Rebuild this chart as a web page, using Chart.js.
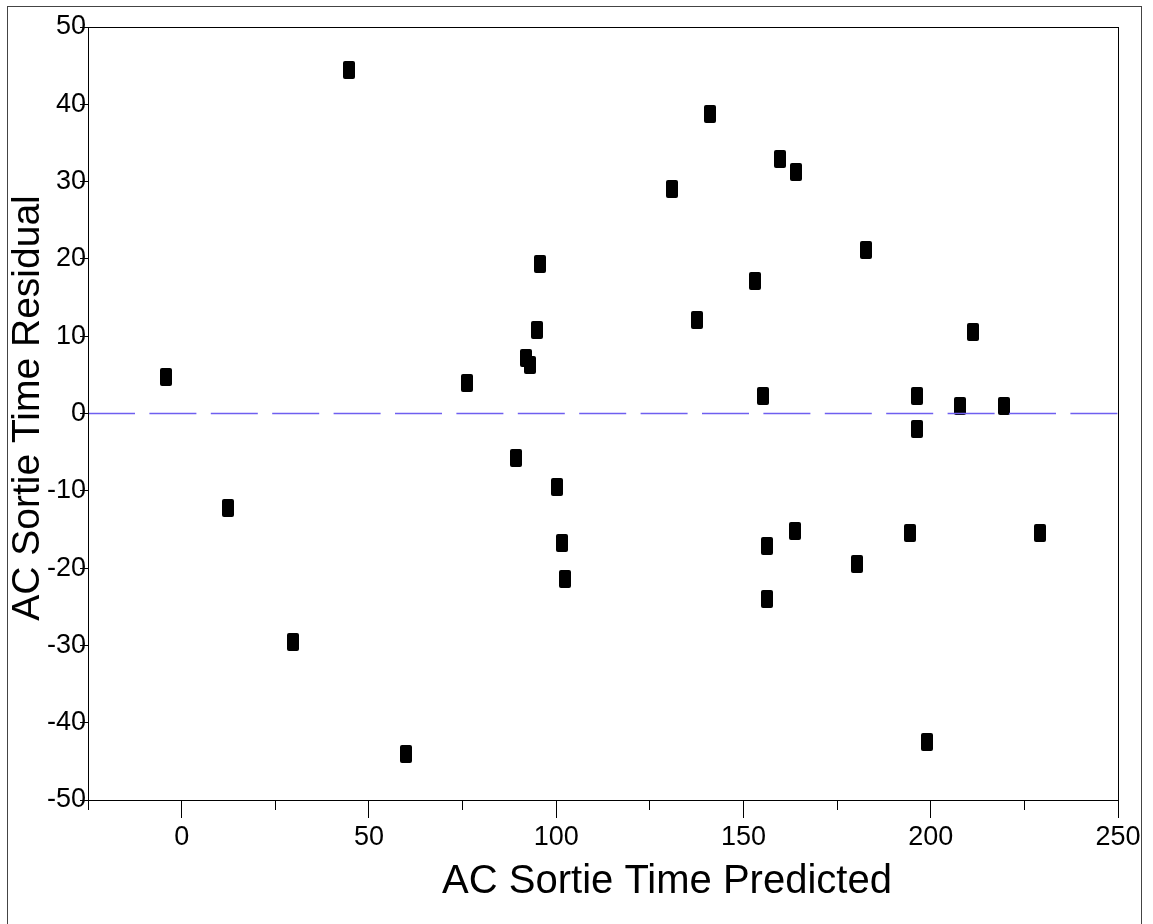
<!DOCTYPE html>
<html lang="en">
<head>
<meta charset="UTF-8">
<title>AC Sortie Time Residual by Predicted</title>
<script src="https://cdn.jsdelivr.net/npm/chart.js"></script>
<style>
    body { margin: 0; background: #fff; }
    .chart-container { position: relative; width: 1153px; height: 924px; }
</style>
</head>
<body>
<div class="chart-container">
    <canvas id="residualChart"></canvas>
</div>
<script>
// data
const predicted = [-4.2, 12.4, 29.7, 44.7, 59.9, 76.2, 89.2, 91.9, 93.1, 94.8, 95.7, 100.2, 101.5, 102.3,
    131.0, 137.6, 141.1, 153.1, 155.3, 156.2, 156.2, 159.7, 164.1, 163.7, 180.4, 182.7,
    194.5, 196.4, 196.4, 199.0, 207.8, 211.3, 219.6, 229.3];
const residual = [4.7, -12.2, -29.5, 44.4, -44.1, 3.9, -5.7, 7.2, 6.3, 10.8, 19.4, -9.5, -16.8, -21.4,
    29.0, 12.1, 38.8, 17.1, 2.3, -17.1, -24.0, 32.9, 31.3, -15.2, -19.5, 21.1,
    -15.5, 2.3, -2.0, -42.5, 1.0, 10.5, 1.0, -15.5];
const zeroLine = [-25, 250];
const xLabels = [0, 50, 100, 150, 200, 250];
const xTitle = 'AC Sortie Time Predicted';
const yTitle = 'AC Sortie Time Residual';

const FONT = "'Liberation Sans', Arial, sans-serif";

// tall black marker
const marker = document.createElement('canvas');
marker.width = 12;
marker.height = 18;
(function () {
    const m = marker.getContext('2d');
    m.fillStyle = '#000';
    m.beginPath();
    m.roundRect(0, 0, 12, 18, 2);
    m.fill();
})();

// frame, outer border and axis titles
const decorations = {
    id: 'decorations',
    beforeDatasetsDraw(chart) {
        chart.ctx.imageSmoothingEnabled = false;
    },
    afterDatasetsDraw(chart) {
        chart.ctx.imageSmoothingEnabled = true;
    },
    afterDraw(chart) {
        const { ctx, chartArea: a } = chart;
        ctx.save();
        ctx.strokeStyle = '#000';
        ctx.lineWidth = 1;
        ctx.strokeRect(Math.round(a.left) + 0.5, Math.round(a.top) + 0.5,
            Math.round(a.right - a.left), Math.round(a.bottom - a.top));
        ctx.strokeStyle = '#444';
        ctx.strokeRect(7.5, 6.5, 1134, 940);

        ctx.fillStyle = '#000';
        ctx.textAlign = 'center';
        ctx.textBaseline = 'middle';
        ctx.font = '40px ' + FONT;
        ctx.fillText(xTitle, 667, 882);
        ctx.font = '39px ' + FONT;
        ctx.translate(28, 408);
        ctx.rotate(-Math.PI / 2);
        ctx.fillText(yTitle, 0, 0);
        ctx.restore();
    }
};

const ctx = document.getElementById('residualChart').getContext('2d');

new Chart(ctx, {
    type: 'scatter',
    data: {
        datasets: [{
            type: 'line',
            data: zeroLine.map(x => ({ x: x, y: 0 })),
            borderColor: '#6f5ff0',
            borderWidth: 1.5,
            borderDash: [47, 14.4],
            pointRadius: 0,
            showLine: true,
            order: 0
        }, {
            data: predicted.map((x, i) => ({ x: x, y: residual[i] })),
            pointStyle: marker,
            backgroundColor: '#000',
            order: 1
        }]
    },
    options: {
        responsive: true,
        maintainAspectRatio: false,
        animation: false,
        events: [],
        layout: { padding: { left: 0, top: 27, right: 35, bottom: 0 } },
        plugins: {
            legend: { display: false },
            tooltip: { enabled: false }
        },
        scales: {
            x: {
                type: 'linear',
                min: -25,
                max: 250,
                border: { display: false },
                grid: {
                    drawOnChartArea: false,
                    tickLength: 18,
                    tickColor: '#000',
                    tickWidth: 1,
                    // short ticks between the labelled ones
                    tickBorderDash: c => (c.tick && c.tick.value % 50 !== 0) ? [10, 40] : []
                },
                ticks: {
                    stepSize: 25,
                    autoSkip: false,
                    maxRotation: 0,
                    padding: 3,
                    color: '#000',
                    font: { family: FONT, size: 27 },
                    callback: v => xLabels.includes(v) ? String(v) : ''
                },
                afterFit: s => { s.height = 124; }
            },
            y: {
                min: -50,
                max: 50,
                border: { display: false },
                grid: {
                    drawOnChartArea: false,
                    tickLength: 8,
                    tickColor: '#000',
                    tickWidth: 1
                },
                ticks: {
                    stepSize: 10,
                    padding: -6,
                    color: '#000',
                    font: { family: FONT, size: 27 }
                },
                afterFit: s => { s.width = 88; }
            }
        }
    },
    plugins: [decorations]
});
</script>
</body>
</html>
